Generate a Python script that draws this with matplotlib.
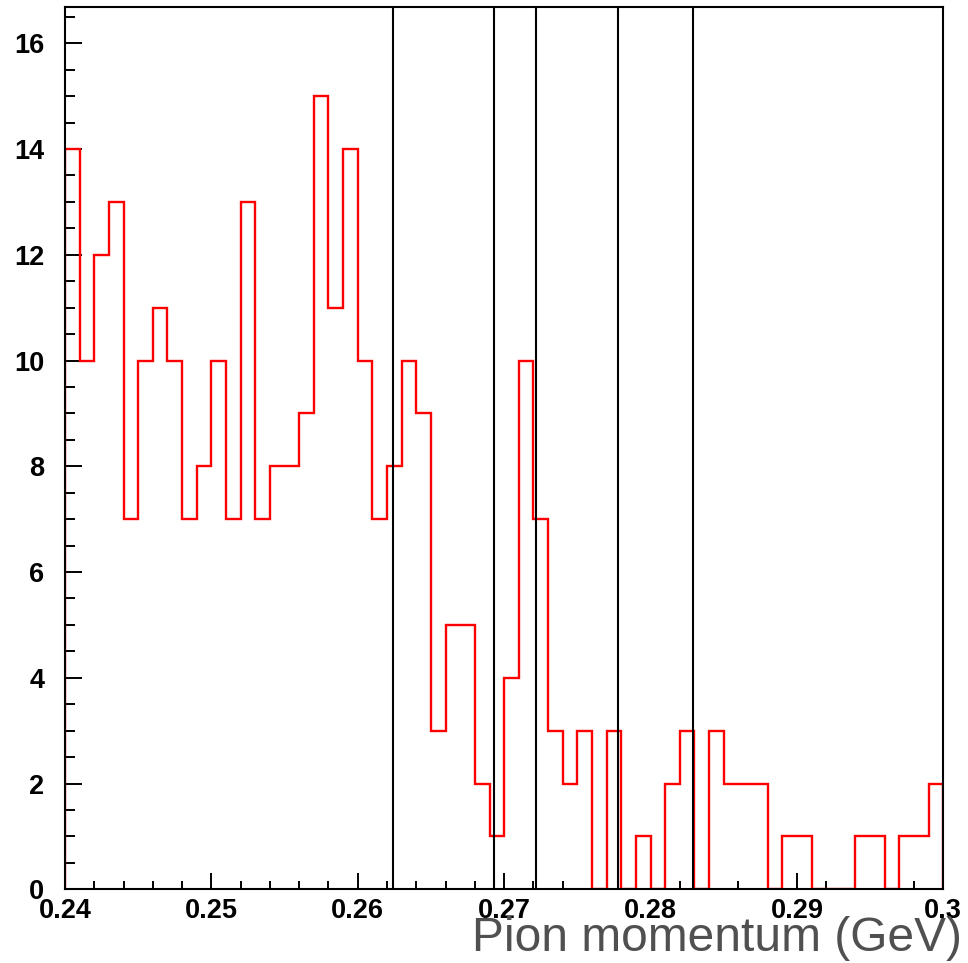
import numpy as np
import matplotlib
matplotlib.use("Agg")
import matplotlib.pyplot as plt
from matplotlib.ticker import MultipleLocator

# histogram: 60 bins of 1 MeV from 0.240 to 0.300 GeV
bin_low = 0.240
bin_width = 0.001
counts = [14, 10, 12, 13, 7, 10, 11, 10, 7, 8,
          10, 7, 13, 7, 8, 8, 9, 15, 11, 14,
          10, 7, 8, 10, 9, 3, 5, 5, 2, 1,
          4, 10, 7, 3, 2, 3, 0, 3, 0, 1,
          0, 2, 3, 0, 3, 2, 2, 2, 0, 1,
          1, 0, 0, 0, 1, 1, 0, 1, 1, 2]

# vertical cut positions
cut_lines = [0.2624, 0.2693, 0.2722, 0.2778, 0.2829]

x_ticks = [0.24, 0.25, 0.26, 0.27, 0.28, 0.29, 0.30]
x_tick_labels = ["0.24", "0.25", "0.26", "0.27", "0.28", "0.29", "0.3"]
y_ticks = [0, 2, 4, 6, 8, 10, 12, 14, 16]

W, H = 968, 963
fig = plt.figure(figsize=(W / 100, H / 100), dpi=100)
ax = fig.add_axes([65 / W, (H - 889.3) / H, (943.3 - 65) / W, (889.3 - 7.3) / H])

edges = bin_low + bin_width * np.arange(len(counts) + 1)
ax.stairs(counts, edges, color="#ff0000", linewidth=1.7, baseline=0, zorder=2)

for xc in cut_lines:
    ax.axvline(xc, color="black", linewidth=1.5, zorder=3)

ax.set_xlim(0.24, 0.30)
ax.set_ylim(0, 16.68)

ax.set_xticks(x_ticks)
ax.set_xticklabels(x_tick_labels)
ax.set_yticks(y_ticks)
ax.xaxis.set_minor_locator(MultipleLocator(0.002))
ax.yaxis.set_minor_locator(MultipleLocator(0.5))

for lab in ax.get_xticklabels() + ax.get_yticklabels():
    lab.set_fontfamily("Liberation Sans")
    lab.set_fontweight("bold")
    lab.set_fontsize(19.5)

ax.tick_params(axis="x", which="major", direction="in", length=11.5, width=1.4, pad=6)
ax.tick_params(axis="x", which="minor", direction="in", length=5.8, width=1.4)
ax.tick_params(axis="y", which="major", direction="in", length=12, width=1.4, pad=15)
ax.tick_params(axis="y", which="minor", direction="in", length=7, width=1.4)
ax.tick_params(top=False, right=False, which="both")

for sp in ax.spines.values():
    sp.set_linewidth(1.5)
    sp.set_zorder(4)

fig.text(962 / W, (H - 951) / H, "Pion momentum (GeV)", ha="right", va="baseline",
         fontsize=34.5, color="#505050", family="Liberation Sans")

fig.savefig("out.png", dpi=100)
